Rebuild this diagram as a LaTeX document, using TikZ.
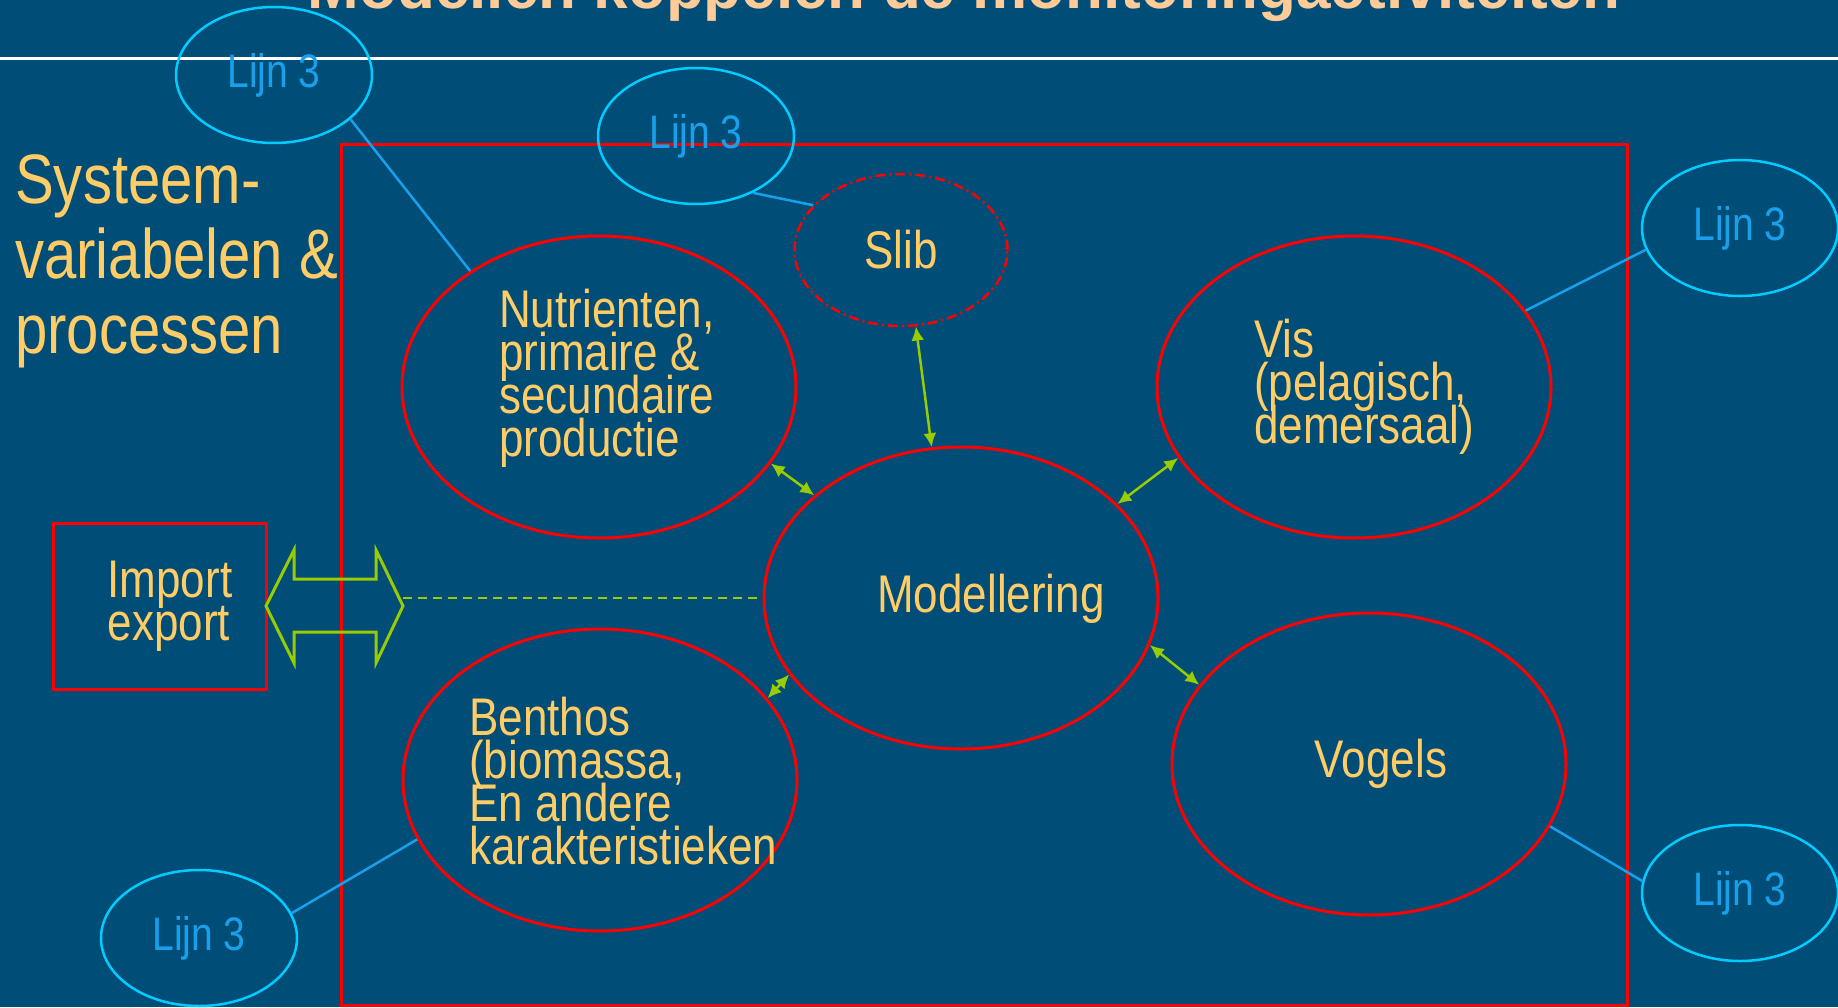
\documentclass[tikz,border=0pt]{standalone}
\usepackage{fontspec}
\usetikzlibrary{shapes.geometric,arrows.meta}
\newfontfamily\bodyfont[FakeStretch=0.83]{Liberation Sans}
\newfontfamily\titlefont{Liberation Sans}

\definecolor{bgblue}{RGB}{0,77,120}
\definecolor{linered}{RGB}{255,0,0}
\definecolor{textyellow}{RGB}{255,204,102}
\definecolor{titlepeach}{RGB}{255,204,153}
\definecolor{linkgreen}{RGB}{153,204,0}
\definecolor{lijncyan}{RGB}{0,204,255}
\definecolor{lijnblue}{RGB}{25,160,235}

\begin{document}
\begin{tikzpicture}[x=1pt,y=-1pt,
    blob/.style={ellipse, draw=linered, line width=3pt, minimum width=394pt, minimum height=302pt, inner sep=0pt},
    slibblob/.style={ellipse, draw=linered, line width=2.5pt, dash pattern=on 10pt off 4pt on 2pt off 4pt, minimum width=213pt, minimum height=152pt, inner sep=0pt},
    lijn/.style={ellipse, draw=lijncyan, line width=2.5pt, minimum width=196pt, minimum height=136pt, inner sep=0pt, text=lijnblue, font={\bodyfont\fontsize{47}{47}\selectfont}},
    txt/.style={text=textyellow, align=left, inner sep=0pt, font={\bodyfont\fontsize{53}{43}\selectfont\lineskiplimit=-100pt}},
    callout/.style={draw=lijnblue, line width=2.5pt},
    link/.style={draw=linkgreen, line width=2.5pt, >={Latex[length=14pt,width=13pt]}, <->}]
            \useasboundingbox (0,0) rectangle (1838,1007);
            \clip (0,0) rectangle (1838,1007);
            \fill[bgblue] (0,0) rectangle (1838,1007);

            % Titel
            \node[anchor=base, inner sep=0pt, text=titlepeach, font={\titlefont\bfseries\fontsize{62}{62}\selectfont}] (titel) at (964,8) {Modellen koppelen de monitoringactiviteiten};
            \draw[white, line width=3pt] (0,58) -- (1838,58);

            % Kader
            \draw[linered, line width=3pt] (341,144) rectangle (1627,1005);
            \node[txt, anchor=base west, font={\bodyfont\fontsize{70}{75}\selectfont}] (systeem) at (15,353) {Systeem-\\variabelen \&\\processen};

            % Systeemvariabelen
            \node[blob] (nutr) at (599,387) {};
            \node[txt, anchor=base west] (nutrtxt) at (499,456) {Nutrienten,\\primaire \&\\secundaire\\productie};

            \node[slibblob, txt] (slib) at (901,250) {Slib};

            \node[blob] (model) at (961,598) {};
            \node[txt, anchor=base] (modeltxt) at (991,612) {Modellering};

            \node[blob] (vis) at (1354,387) {};
            \node[txt, anchor=base west] (vistxt) at (1254,443) {Vis\\(pelagisch,\\demersaal)};

            \node[blob] (benthos) at (600,780) {};
            \node[txt, anchor=base west] (benthostxt) at (469,864) {Benthos\\(biomassa,\\En andere\\karakteristieken};

            \node[blob] (vogels) at (1369,764) {};
            \node[txt, anchor=base] (vogelstxt) at (1381,777) {Vogels};

            % Import / export
            \node[draw=linered, line width=3pt, minimum width=213pt, minimum height=166pt] (impexp) at (160,606) {};
            \node[txt] (impexptxt) at ([xshift=10pt]impexp.center) {Import\\export};
            \coordinate (arrL) at (266,606);
            \coordinate (arrR) at (403,606);
            \draw[linkgreen, line width=3pt] (arrL) -- ++(28,-56) -- ++(0,29) -- ++(82,0) -- ++(0,-29) -- (arrR)
                -- ++(-27,57) -- ++(0,-31) -- ++(-82,0) -- ++(0,31) -- cycle;
            \draw[linkgreen, line width=2.5pt, dash pattern=on 9pt off 6pt] (model.west -| arrR) -- (model.west);

            % Koppelingen
            \draw[link] (nutr.336) -- (model.145);
            \draw[link] (slib.281) -- (model.101);
            \draw[link] (model.31) -- (vis.202);
            \draw[link] (model.346) -- (vogels.155);
            \draw[link] (benthos.26) -- (model.204);

            % Lijn 3
            \node[lijn] (lijnNut) at (274,75) {Lijn 3};
            \node[lijn] (lijnSlib) at (696,136) {Lijn 3};
            \node[lijn] (lijnVis) at (1740,228) {Lijn 3};
            \node[lijn] (lijnVog) at (1740,893) {Lijn 3};
            \node[lijn] (lijnBen) at (199,938) {Lijn 3};

            \draw[callout] (lijnNut.330) -- (nutr.138);
            \draw[callout] (lijnSlib.315) -- (slib.153);
            \draw[callout] (lijnVis.193) -- (vis.24);
            \draw[callout] (lijnVog.173) -- (vogels.341);
            \draw[callout] (lijnBen.15) -- (benthos.198);
\end{tikzpicture}
\end{document}
